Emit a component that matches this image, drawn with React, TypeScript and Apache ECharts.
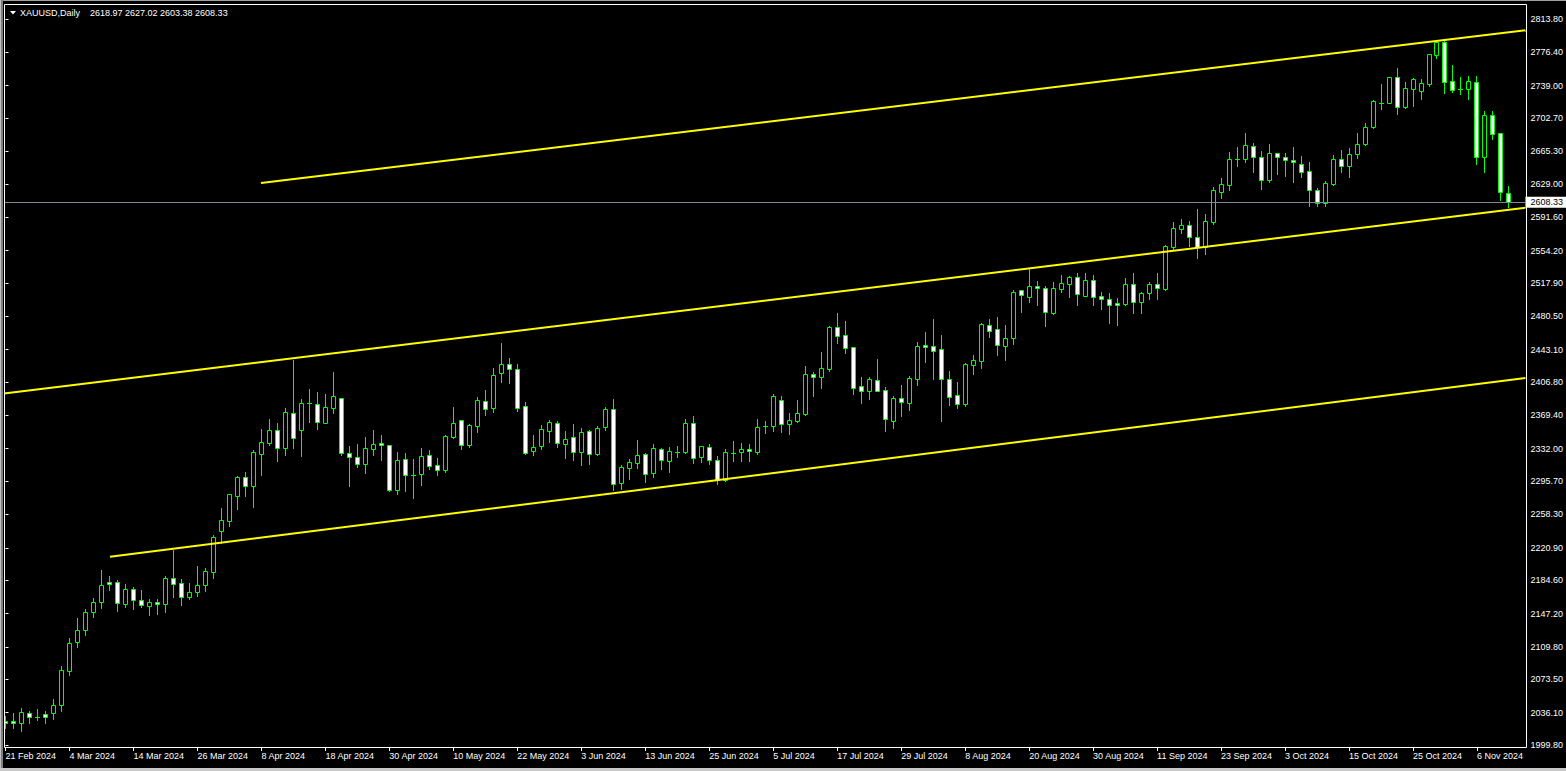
import React, { useEffect, useRef } from "react";
import * as echarts from "echarts";

// ---- Data (XAUUSD Daily) ----
const opens = [
  2026.7, 2026.4, 2024.1, 2035.3, 2031.2, 2034.6, 2035.3, 2044.3, 2082.4, 2114.9,
  2128.4, 2148.6, 2159.8, 2182.2, 2182.2, 2157.6, 2174.4, 2162.0, 2155.3, 2159.8,
  2157.6, 2186.7, 2181.1, 2165.4, 2171.7, 2178.9, 2194.1, 2240.1, 2251.3, 2279.3,
  2299.9, 2290.5, 2326.4, 2338.7, 2353.0, 2333.1, 2371.7, 2353.3, 2382.9, 2381.8,
  2361.2, 2378.0, 2388.5, 2326.9, 2322.4, 2315.2, 2332.0, 2338.1, 2335.8, 2286.0,
  2320.1, 2302.5, 2304.0, 2324.6, 2313.4, 2308.5, 2345.5, 2363.9, 2336.5, 2357.8,
  2385.2, 2377.3, 2417.2, 2426.6, 2421.0, 2379.5, 2329.1, 2335.4, 2351.5, 2360.5,
  2337.6, 2344.8, 2328.6, 2351.5, 2326.4, 2356.7, 2376.2, 2293.9, 2310.7, 2316.3,
  2325.7, 2304.4, 2331.3, 2318.6, 2328.6, 2328.6, 2360.5, 2322.7, 2333.6, 2319.0,
  2296.9, 2327.5, 2328.0, 2331.3, 2328.6, 2357.1, 2357.1, 2386.3, 2359.4, 2363.1,
  2371.3, 2415.8, 2412.1, 2421.4, 2468.1, 2459.2, 2445.7, 2402.0, 2396.4, 2408.7,
  2397.5, 2363.4, 2388.5, 2383.6, 2409.8, 2448.0, 2446.8, 2443.5, 2409.8, 2391.9,
  2382.5, 2426.2, 2430.0, 2470.4, 2465.9, 2447.5, 2456.5, 2509.6, 2502.4, 2514.1,
  2511.8, 2484.2, 2511.4, 2517.0, 2524.2, 2503.6, 2520.8, 2502.9, 2499.5, 2495.0,
  2494.6, 2516.3, 2496.8, 2506.2, 2516.3, 2511.4, 2558.5, 2578.7, 2582.5, 2569.0,
  2558.5, 2586.5, 2620.2, 2628.0, 2657.2, 2656.5, 2671.7, 2658.7, 2633.6, 2663.2,
  2658.7, 2655.4, 2650.9, 2643.0, 2621.7, 2607.1, 2629.1, 2656.5, 2648.6, 2662.1,
  2673.3, 2692.4, 2719.3, 2720.0, 2748.4, 2715.5, 2735.7, 2733.4, 2741.3, 2773.8,
  2787.7, 2744.0, 2735.3, 2735.7, 2742.8, 2658.7, 2705.8, 2685.6, 2618.97,
];
const highs = [
  2032.6, 2035.3, 2041.0, 2037.9, 2040.2, 2037.9, 2051.4, 2088.4, 2119.8, 2141.9,
  2152.3, 2164.6, 2196.0, 2189.3, 2184.8, 2180.3, 2176.6, 2173.2, 2163.5, 2163.5,
  2189.3, 2218.4, 2185.9, 2181.1, 2200.5, 2198.3, 2235.3, 2265.2, 2281.2, 2301.4,
  2305.6, 2330.5, 2354.1, 2365.3, 2360.5, 2377.3, 2431.5, 2387.4, 2398.6, 2395.6,
  2393.0, 2418.0, 2388.5, 2335.0, 2337.3, 2345.1, 2353.0, 2347.4, 2335.8, 2328.3,
  2327.2, 2320.5, 2332.8, 2330.5, 2321.6, 2347.0, 2378.8, 2363.9, 2360.0, 2390.0,
  2397.8, 2422.5, 2450.2, 2433.7, 2427.0, 2384.4, 2347.4, 2358.6, 2364.2, 2363.1,
  2351.9, 2359.7, 2354.9, 2353.0, 2357.4, 2378.8, 2387.7, 2313.7, 2320.5, 2341.8,
  2327.5, 2337.3, 2333.1, 2333.9, 2335.0, 2365.3, 2368.7, 2334.7, 2337.3, 2323.8,
  2331.3, 2340.6, 2338.7, 2337.3, 2365.3, 2363.1, 2393.4, 2391.1, 2372.0, 2386.6,
  2424.8, 2418.0, 2440.1, 2469.6, 2484.2, 2475.2, 2445.7, 2412.4, 2412.4, 2432.6,
  2401.2, 2391.1, 2403.4, 2413.5, 2451.3, 2462.9, 2477.4, 2459.5, 2419.1, 2406.8,
  2428.1, 2437.1, 2472.9, 2477.4, 2479.7, 2470.7, 2509.9, 2509.6, 2533.5, 2520.0,
  2514.1, 2518.9, 2526.8, 2525.6, 2529.0, 2529.0, 2526.8, 2507.7, 2506.6, 2501.0,
  2523.4, 2529.0, 2507.4, 2518.6, 2529.0, 2560.4, 2585.8, 2589.2, 2587.0, 2600.8,
  2595.2, 2625.1, 2635.2, 2664.3, 2670.3, 2685.6, 2674.4, 2665.8, 2673.3, 2663.2,
  2663.2, 2670.3, 2660.2, 2653.1, 2624.0, 2631.8, 2661.0, 2666.6, 2668.8, 2685.6,
  2696.9, 2722.6, 2740.6, 2748.4, 2758.9, 2743.1, 2747.6, 2746.5, 2774.2, 2788.8,
  2789.9, 2762.2, 2748.8, 2749.9, 2749.9, 2710.6, 2710.6, 2685.6, 2627.02,
];
const lows = [
  2019.2, 2019.2, 2015.8, 2024.8, 2028.2, 2024.1, 2028.6, 2038.3, 2078.6, 2110.0,
  2123.5, 2143.3, 2153.7, 2173.9, 2150.4, 2154.9, 2152.3, 2154.9, 2145.9, 2147.0,
  2149.3, 2166.1, 2156.8, 2163.2, 2167.2, 2172.8, 2187.4, 2225.9, 2245.7, 2264.4,
  2279.3, 2267.0, 2302.9, 2336.5, 2318.6, 2325.3, 2333.1, 2324.2, 2362.3, 2354.1,
  2361.2, 2372.4, 2325.0, 2290.5, 2311.8, 2305.1, 2325.3, 2319.7, 2284.9, 2281.6,
  2284.6, 2277.1, 2291.6, 2309.6, 2302.9, 2306.2, 2344.0, 2332.0, 2334.2, 2351.1,
  2370.1, 2373.5, 2406.8, 2406.0, 2374.6, 2326.1, 2325.3, 2331.7, 2339.9, 2334.2,
  2321.9, 2319.3, 2313.7, 2314.8, 2324.6, 2353.0, 2285.7, 2287.2, 2297.7, 2310.4,
  2295.0, 2300.6, 2309.6, 2305.9, 2323.0, 2327.5, 2316.3, 2317.4, 2315.2, 2292.8,
  2295.8, 2318.6, 2318.2, 2318.6, 2326.4, 2349.6, 2352.2, 2351.1, 2348.8, 2362.3,
  2369.8, 2391.4, 2400.4, 2419.1, 2450.9, 2439.6, 2393.7, 2383.6, 2388.1, 2396.4,
  2352.2, 2355.6, 2369.0, 2375.7, 2403.8, 2429.6, 2410.5, 2363.4, 2381.0, 2378.0,
  2380.2, 2416.1, 2422.8, 2457.6, 2437.1, 2431.8, 2449.7, 2485.6, 2496.8, 2493.5,
  2469.9, 2483.4, 2508.0, 2502.4, 2493.5, 2503.6, 2493.5, 2489.0, 2473.3, 2471.0,
  2493.5, 2484.5, 2484.5, 2499.5, 2500.2, 2510.3, 2555.6, 2573.9, 2559.3, 2546.2,
  2550.6, 2584.3, 2613.4, 2622.0, 2649.3, 2653.1, 2642.6, 2623.5, 2631.4, 2640.3,
  2638.1, 2631.4, 2637.0, 2604.5, 2604.5, 2603.8, 2628.0, 2642.6, 2637.0, 2658.3,
  2672.5, 2691.9, 2712.9, 2719.3, 2707.6, 2714.3, 2716.6, 2724.1, 2739.0, 2770.4,
  2731.1, 2732.3, 2730.0, 2724.1, 2651.6, 2642.6, 2679.6, 2610.5, 2603.38,
];
const closes = [
  2024.1, 2024.1, 2036.5, 2030.9, 2031.2, 2030.9, 2044.3, 2083.5, 2113.8, 2128.4,
  2148.6, 2159.8, 2178.9, 2180.0, 2158.7, 2174.4, 2162.4, 2156.4, 2159.8, 2157.6,
  2186.7, 2180.6, 2165.2, 2171.7, 2178.9, 2194.6, 2232.7, 2251.7, 2280.9, 2299.9,
  2290.5, 2328.0, 2339.2, 2353.0, 2333.1, 2373.2, 2344.3, 2382.9, 2382.9, 2361.6,
  2378.4, 2390.8, 2326.9, 2322.4, 2315.2, 2332.5, 2336.9, 2335.8, 2286.0, 2319.3,
  2302.9, 2302.5, 2323.5, 2313.0, 2308.5, 2345.9, 2360.5, 2335.8, 2358.2, 2386.3,
  2376.2, 2414.3, 2426.6, 2421.0, 2378.0, 2327.5, 2333.6, 2353.8, 2361.6, 2338.1,
  2342.6, 2328.0, 2350.4, 2326.4, 2354.9, 2376.2, 2292.8, 2311.5, 2316.8, 2324.6,
  2303.3, 2332.8, 2319.0, 2329.1, 2328.6, 2360.5, 2321.3, 2334.7, 2319.0, 2296.9,
  2328.3, 2327.5, 2331.3, 2329.1, 2356.0, 2357.1, 2390.8, 2359.4, 2363.9, 2371.7,
  2415.4, 2412.1, 2422.1, 2468.1, 2458.0, 2444.6, 2400.4, 2396.4, 2409.8, 2397.0,
  2365.0, 2388.5, 2384.0, 2410.9, 2446.8, 2445.7, 2441.2, 2409.8, 2389.6, 2382.5,
  2426.6, 2431.1, 2471.5, 2464.3, 2448.0, 2455.8, 2507.4, 2504.0, 2514.1, 2511.8,
  2484.9, 2511.8, 2517.5, 2524.2, 2505.1, 2520.8, 2502.4, 2499.5, 2492.8, 2492.8,
  2516.3, 2496.8, 2506.6, 2516.3, 2511.8, 2558.9, 2579.1, 2582.5, 2569.0, 2558.5,
  2587.0, 2621.7, 2628.5, 2656.5, 2657.2, 2672.2, 2658.7, 2633.6, 2663.2, 2658.7,
  2655.4, 2653.1, 2641.9, 2621.7, 2607.1, 2629.6, 2656.5, 2648.6, 2662.1, 2673.3,
  2692.4, 2721.9, 2719.3, 2748.4, 2714.8, 2736.1, 2746.2, 2741.7, 2774.2, 2787.7,
  2743.5, 2734.5, 2735.3, 2744.0, 2658.7, 2705.8, 2684.5, 2619.5, 2608.33,
];

const dateTickIndex = [0, 8, 16, 24, 32, 40, 48, 56, 64, 72, 80, 88, 96, 104, 112, 120, 128, 136, 144, 152, 160, 168, 176, 184];
const dateTickLabels = [
  "21 Feb 2024", "4 Mar 2024", "14 Mar 2024", "26 Mar 2024", "8 Apr 2024", "18 Apr 2024",
  "30 Apr 2024", "10 May 2024", "22 May 2024", "3 Jun 2024", "13 Jun 2024", "25 Jun 2024",
  "5 Jul 2024", "17 Jul 2024", "29 Jul 2024", "8 Aug 2024", "20 Aug 2024", "30 Aug 2024",
  "11 Sep 2024", "23 Sep 2024", "3 Oct 2024", "15 Oct 2024", "25 Oct 2024", "6 Nov 2024",
];

const priceTicks = [
  1999.8, 2036.1, 2073.5, 2109.8, 2147.2, 2184.6, 2220.9, 2258.3, 2295.7, 2332.0, 2369.4, 2406.8,
  2443.1, 2480.5, 2517.9, 2554.2, 2591.6, 2629.0, 2665.3, 2702.7, 2739.0, 2776.4, 2813.8,
];

// channel trend lines: [bar index, price]
const channelUpper = [[31.94, 2629.9], [190.06, 2801.3]];
const channelMiddle = [[-0.19, 2393.8], [190.06, 2602.2]];
const channelLower = [[13.06, 2210.9], [190.06, 2411.3]];

const symbolName = "XAUUSD,Daily";

// ---- view window ----
const X_MIN = -0.1875;
const X_MAX = 190.0625;
const Y_MIN = 1997.56;
const Y_MAX = 2829.49;

const FONT = "'Liberation Sans', Arial, sans-serif";
const GREEN = "#00ff00";

export default function App() {
  const ref = useRef<HTMLDivElement>(null);

  useEffect(() => {
    const el = ref.current;
    if (!el) return;
    const chart = echarts.init(el, null, { renderer: "svg" });
    const n = opens.length;
    const last = n - 1;
    const candleData = opens.map((o, i) => [i, o, closes[i], lows[i], highs[i]]);
    const lastClose = closes[last];
    const header = [opens[last], highs[last], lows[last], closes[last]].map((v) => v.toFixed(2)).join(" ");

    const trend = (data: number[][], name: string) => ({
      name,
      type: "line",
      data,
      symbol: "none",
      silent: true,
      z: 5,
      lineStyle: { color: "#ffff00", width: 2 },
    });

    const option: any = {
      animation: false,
      backgroundColor: "#000000",
      grid: { left: 4, top: 5, width: 1522, height: 742, show: false },
      xAxis: {
        type: "value",
        min: X_MIN,
        max: X_MAX,
        axisLine: { show: false },
        splitLine: { show: false },
        axisTick: {
          show: true,
          length: 4,
          customValues: dateTickIndex,
          lineStyle: { color: "#ffffff", width: 1 },
        },
        axisLabel: {
          customValues: dateTickIndex,
          formatter: (v: number) => {
            const k = dateTickIndex.indexOf(Math.round(v));
            return k >= 0 ? dateTickLabels[k] : "";
          },
          color: "#ffffff",
          fontSize: 9,
          fontFamily: FONT,
          align: "left",
          margin: 4,
        },
      },
      yAxis: {
        type: "value",
        position: "right",
        min: Y_MIN,
        max: Y_MAX,
        axisLine: { show: false },
        splitLine: { show: false },
        axisTick: {
          show: true,
          length: 3,
          customValues: priceTicks,
          lineStyle: { color: "#ffffff", width: 1 },
        },
        axisLabel: {
          customValues: priceTicks,
          formatter: (v: number) => v.toFixed(2),
          color: "#ffffff",
          fontSize: 9,
          fontFamily: FONT,
          margin: 5,
        },
      },
      graphic: [
        { type: "rect", silent: true, shape: { x: 0, y: 0, width: 1566, height: 1 }, style: { fill: "#a0a0a0" } },
        { type: "rect", silent: true, shape: { x: 0, y: 0, width: 1, height: 771 }, style: { fill: "#c0c0c0" } },
        { type: "rect", silent: true, shape: { x: 1, y: 0, width: 2, height: 771 }, style: { fill: "#808080" } },
        { type: "rect", silent: true, shape: { x: 0, y: 768, width: 1566, height: 3 }, style: { fill: "#c8c8c8" } },
        {
          type: "rect",
          silent: true,
          z: 100,
          shape: { x: 4.5, y: 4.5, width: 1522, height: 743 },
          style: { fill: "none", stroke: "#ffffff", lineWidth: 1 },
        },
        {
          type: "polygon",
          silent: true,
          z: 100,
          shape: { points: [[10, 11], [16, 11], [13, 14.5]] },
          style: { fill: "#ffffff" },
        },
        {
          type: "text",
          silent: true,
          z: 100,
          x: 20,
          y: 13,
          style: { text: symbolName, fill: "#ffffff", font: `9px ${FONT}`, textVerticalAlign: "middle", verticalAlign: "middle" },
        },
        {
          type: "text",
          silent: true,
          z: 100,
          x: 90,
          y: 13,
          style: { text: header, fill: "#ffffff", font: `9px ${FONT}`, textVerticalAlign: "middle", verticalAlign: "middle" },
        },
      ],
      series: [
        {
          name: "bid",
          type: "line",
          data: [],
          silent: true,
          z: 1,
          markLine: {
            silent: true,
            symbol: ["none", "none"],
            animation: false,
            data: [{ yAxis: lastClose }],
            lineStyle: { color: "#778899", width: 1, type: "solid" },
            label: {
              show: true,
              position: "end",
              formatter: lastClose.toFixed(2),
              color: "#000000",
              backgroundColor: "#ffffff",
              fontSize: 9,
              fontFamily: FONT,
              padding: [1, 3, 1, 5],
              distance: 0,
            },
          },
        },
        {
          name: "XAUUSD",
          type: "custom",
          z: 3,
          clip: true,
          silent: true,
          data: candleData,
          encode: { x: 0, y: [1, 2, 3, 4] },
          renderItem: (params: any, api: any) => {
            const i = api.value(0);
            const o = api.value(1);
            const c = api.value(2);
            const l = api.value(3);
            const h = api.value(4);
            const pO = api.coord([i, o]);
            const pC = api.coord([i, c]);
            const pH = api.coord([i, h]);
            const pL = api.coord([i, l]);
            const x = Math.floor(pO[0]) + 0.5;
            const children: any[] = [
              {
                type: "line",
                shape: { x1: x, y1: Math.round(pH[1]), x2: x, y2: Math.round(pL[1]) + 1 },
                style: { stroke: GREEN, lineWidth: 1 },
              },
            ];
            const top = Math.round(Math.min(pO[1], pC[1])) + 0.5;
            const bot = Math.round(Math.max(pO[1], pC[1])) + 0.5;
            if (bot - top < 1) {
              children.push({
                type: "line",
                shape: { x1: x - 2.5, y1: top, x2: x + 2.5, y2: top },
                style: { stroke: GREEN, lineWidth: 1 },
              });
            } else {
              children.push({
                type: "rect",
                shape: { x: x - 2, y: top, width: 4, height: bot - top },
                style: { fill: c > o ? "#000000" : "#ffffff", stroke: GREEN, lineWidth: 1 },
              });
            }
            return { type: "group", children };
          },
        },
        trend(channelUpper, "upper"),
        trend(channelMiddle, "middle"),
        trend(channelLower, "lower"),
      ],
    };

    chart.setOption(option);
    return () => {
      chart.dispose();
    };
  }, []);

  return (
    <div
      ref={ref}
      style={{ position: "fixed", left: 0, top: 0, width: 1566, height: 771, background: "#000000" }}
    />
  );
}
